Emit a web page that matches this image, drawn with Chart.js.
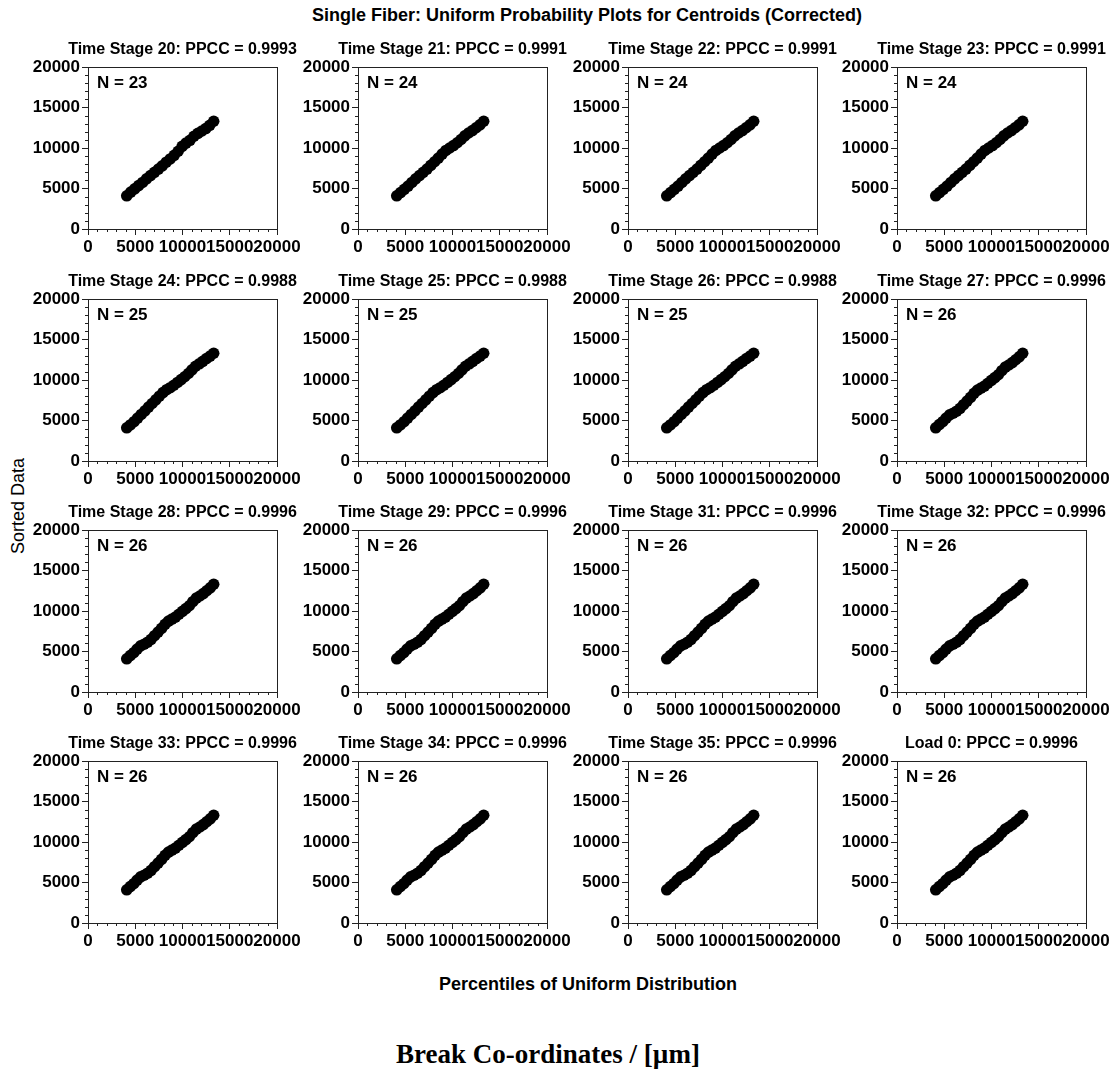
<!DOCTYPE html>
<html>
<head>
<meta charset="utf-8">
<title>Uniform Probability Plots</title>
<script src="https://cdn.jsdelivr.net/npm/chart.js@4.4.1/dist/chart.umd.min.js"></script>
<style>
  body { margin: 0; background: #fff; width: 1115px; height: 1070px; position: relative; overflow: hidden;
         font-family: 'Liberation Sans', Arial, sans-serif; color: #000; }
  canvas { position: absolute; }
  .lbl { position: absolute; white-space: nowrap; transform: translate(-50%, -50%); }
</style>
</head>
<body>
<div class="lbl" style="left:587px; top:15px; font-size:18px; font-weight:bold;">Single Fiber: Uniform Probability Plots for Centroids (Corrected)</div>
<div class="lbl" style="left:18px; top:506px; font-size:18px; transform:translate(-50%,-50%) rotate(-90deg);">Sorted Data</div>
<div class="lbl" style="left:588px; top:984px; font-size:18px; font-weight:bold;">Percentiles of Uniform Distribution</div>
<div class="lbl" style="left:548px; top:1054px; font-size:27px; font-weight:bold; font-family:'Liberation Serif','Times New Roman',serif;">Break Co-ordinates / [µm]</div>
<div id="panels"></div>

<script>
/* ── Data ── */
const stages = ['Time Stage 20','Time Stage 21','Time Stage 22','Time Stage 23',
                'Time Stage 24','Time Stage 25','Time Stage 26','Time Stage 27',
                'Time Stage 28','Time Stage 29','Time Stage 31','Time Stage 32',
                'Time Stage 33','Time Stage 34','Time Stage 35','Load 0'];
const ppcc   = ['0.9993','0.9991','0.9991','0.9991',
                '0.9988','0.9988','0.9988','0.9996',
                '0.9996','0.9996','0.9996','0.9996',
                '0.9996','0.9996','0.9996','0.9996'];
const counts = [23,24,24,24, 25,25,25,26, 26,26,26,26, 26,26,26,26];
const tickValues = [0, 5000, 10000, 15000, 20000];

// percentiles (x) and sorted break co-ordinates (y), per sample size
const pct23 = [4100,4520,4940,5350,5770,6190,6610,7030,7450,7860,8280,8700,9120,9540,9960,10370,10790,11210,11630,12050,12460,12880,13300];
const obs23 = [4100,4550,4950,5350,5750,6200,6600,7000,7400,7800,8250,8650,9100,9600,10200,10600,10950,11450,11800,12100,12400,12800,13300];
const pct24 = [4100,4500,4900,5300,5700,6100,6500,6900,7300,7700,8100,8500,8900,9300,9700,10100,10500,10900,11300,11700,12100,12500,12900,13300];
const obs24 = [4100,4500,4900,5300,5750,6200,6600,7000,7400,7850,8300,8750,9250,9700,10000,10300,10650,11050,11500,11850,12150,12500,12850,13300];
const pct25 = [4100,4480,4870,5250,5630,6020,6400,6780,7170,7550,7930,8320,8700,9080,9470,9850,10230,10620,11000,11380,11770,12150,12530,12920,13300];
const obs25 = [4100,4450,4850,5300,5750,6200,6650,7100,7550,8000,8450,8800,9050,9350,9700,10050,10400,10800,11250,11700,12000,12300,12650,12950,13300];
const pct26 = [4100,4470,4840,5200,5570,5940,6310,6680,7040,7410,7780,8150,8520,8880,9250,9620,9990,10360,10720,11090,11460,11830,12200,12560,12930,13300];
const obs26 = [4100,4500,4850,5300,5700,5900,6150,6500,6950,7400,7850,8350,8750,9000,9250,9600,9950,10300,10650,11150,11600,11850,12150,12500,12850,13300];

const series = { 23: [pct23, obs23], 24: [pct24, obs24], 25: [pct25, obs25], 26: [pct26, obs26] };

/* ── Layout ── */
const colLeft = [88, 358, 628, 897];
const rowTop  = [67, 299, 530, 761];
const plotW = 189, plotH = 162;
const padL = 62, padT = 30, padR = 40, padB = 30;
const FONT = "'Liberation Sans', Arial, sans-serif";

Chart.defaults.font.family = FONT;
Chart.defaults.color = '#000';

/* title, box, minor ticks, N label */
const panelDeco = {
  id: 'panelDeco',
  afterDraw(chart, args, opts) {
    const { ctx, chartArea: a, scales: { x, y } } = chart;
    ctx.save();
    ctx.strokeStyle = '#222';
    ctx.lineWidth = 1;
    ctx.strokeRect(a.left + .5, a.top + .5, a.right - a.left, a.bottom - a.top);
    ctx.beginPath();
    for (let v = 1000; v < 20000; v += 1000) {
      if (v % 5000 === 0) continue;
      const px = Math.round(x.getPixelForValue(v)) + .5;
      const py = Math.round(y.getPixelForValue(v)) + .5;
      ctx.moveTo(px, a.bottom); ctx.lineTo(px, a.bottom + 3);
      ctx.moveTo(a.left, py);   ctx.lineTo(a.left - 3, py);
    }
    ctx.stroke();
    ctx.fillStyle = '#000';
    ctx.textBaseline = 'middle';
    ctx.textAlign = 'left';
    ctx.font = 'bold 17px ' + FONT;
    ctx.fillText(opts.n, a.left + 9, a.top + 16);
    ctx.textAlign = 'center';
    ctx.font = 'bold 16px ' + FONT;
    ctx.fillText(opts.title, (a.left + a.right) / 2, a.top - 17);
    ctx.restore();
  }
};

function axis(fit) {
  return {
    type: 'linear', min: 0, max: 20000,
    border: { color: '#222', width: 1 },
    grid: { drawOnChartArea: false, tickLength: 6, tickColor: '#222' },
    ticks: {
      autoSkip: false, maxRotation: 0, padding: 2,
      font: { size: 17, weight: 'bold' },
      callback: v => String(v)
    },
    afterBuildTicks(s) { s.ticks = tickValues.map(v => ({ value: v })); },
    afterFit: fit
  };
}

const host = document.getElementById('panels');
stages.forEach((name, i) => {
  const r = Math.floor(i / 4), c = i % 4;
  const cv = document.createElement('canvas');
  cv.width = padL + plotW + padR;
  cv.height = padT + plotH + padB;
  cv.style.left = (colLeft[c] - padL) + 'px';
  cv.style.top  = (rowTop[r] - padT) + 'px';
  host.appendChild(cv);

  const [xs, ys] = series[counts[i]];
  new Chart(cv.getContext('2d'), {
    type: 'scatter',
    data: {
      datasets: [{
        data: xs.map((v, k) => ({ x: v, y: ys[k] })),
        backgroundColor: '#000',
        borderColor: '#000',
        pointRadius: 5.8,
        borderWidth: 0
      }]
    },
    options: {
      responsive: false, animation: false,
      layout: { padding: { left: 0, top: padT, right: padR, bottom: 0 } },
      plugins: {
        legend: { display: false },
        tooltip: { enabled: false },
        title: { display: false },
        panelDeco: { title: name + ': PPCC = ' + ppcc[i], n: 'N = ' + counts[i] }
      },
      scales: {
        x: axis(s => { s.height = padB; }),
        y: axis(s => { s.width = padL; })
      }
    },
    plugins: [panelDeco]
  });
});
</script>
</body>
</html>
